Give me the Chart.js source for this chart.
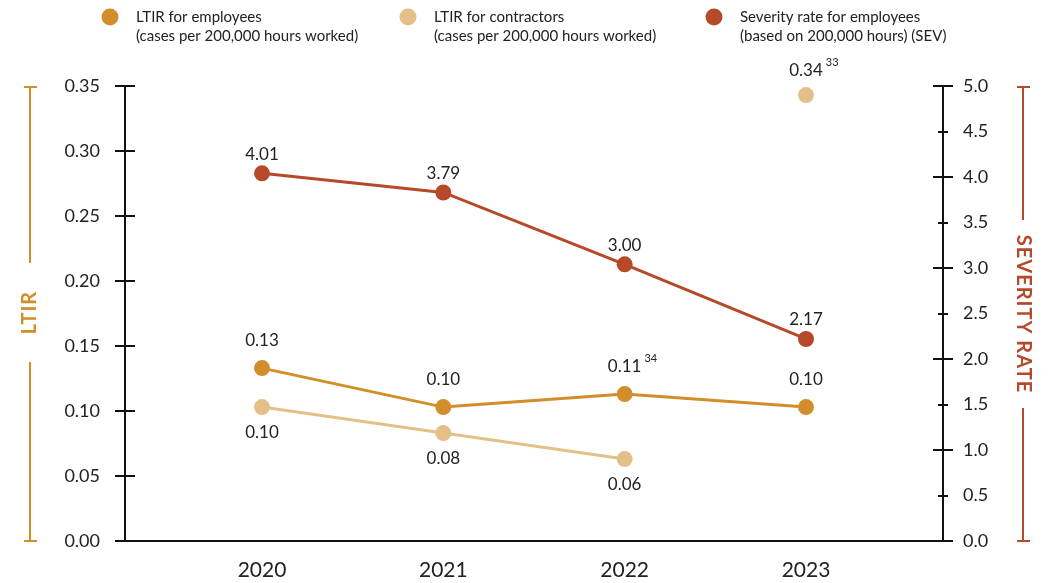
<!DOCTYPE html>
<html lang="en">
<head>
    <meta charset="UTF-8">
    <title>LTIR and Severity Rate</title>
    <script src="https://cdn.jsdelivr.net/npm/chart.js"></script>
    <style>
        body {
            margin: 0;
            background: #ffffff;
        }
        .wrap {
            position: relative;
            width: 1048px;
            height: 583px;
        }
    </style>
</head>
<body>
    <div class="wrap">
        <canvas id="grafico" width="1048" height="583"></canvas>
    </div>
    <script>
        // data
        const years = [2020, 2021, 2022, 2023];
        const ltirEmployees = [0.133, 0.103, 0.113, 0.103];
        const ltirContractors = [0.103, 0.083, 0.063, 0.343];
        const severityRate = [4.04, 3.83, 3.04, 2.22];

        const ltirEmployeesLabels = ['0.13', '0.10', '0.11', '0.10'];
        const ltirContractorsLabels = ['0.10', '0.08', '0.06', '0.34'];
        const severityLabels = ['4.01', '3.79', '3.00', '2.17'];
        const ltirEmployeesNotes = ['', '', '34', ''];
        const ltirContractorsNotes = ['', '', '', '33'];
        const severityNotes = ['', '', '', ''];
        const ltirContractorsSide = ['below', 'below', 'below', 'above'];

        const legendTitles = ['LTIR for employees', 'LTIR for contractors', 'Severity rate for employees'];
        const legendSubtitles = ['(cases per 200,000 hours worked)', '(cases per 200,000 hours worked)', '(based on 200,000 hours) (SEV)'];

        const colEmp = '#d18e2b';
        const colCon = '#e4bf88';
        const colSev = '#b5492a';
        const colText = '#222222';
        const FONT = 'Lato, "Open Sans", sans-serif';

        function pts(values) {
            return values.map((v, i) => ({ x: years[i], y: v }));
        }

        // value labels next to the points
        const valueLabels = {
            id: 'valueLabels',
            afterDatasetsDraw(chart) {
                const ctx = chart.ctx;
                const sets = [
                    { labels: ltirEmployeesLabels, notes: ltirEmployeesNotes, side: () => 'above', off: 28 },
                    { labels: ltirContractorsLabels, notes: ltirContractorsNotes, side: i => ltirContractorsSide[i], off: 25 },
                    { labels: severityLabels, notes: severityNotes, side: () => 'above', off: 19 }
                ];
                ctx.save();
                sets.forEach((s, d) => {
                    const meta = chart.getDatasetMeta(d);
                    meta.data.forEach((p, i) => {
                        const y = s.side(i) === 'above' ? p.y - s.off : p.y + s.off;
                        ctx.font = '17px ' + FONT;
                        ctx.fillStyle = colText;
                        ctx.textAlign = 'center';
                        ctx.textBaseline = 'middle';
                        ctx.fillText(s.labels[i], p.x, y);
                        if (s.notes[i]) {
                            const w = ctx.measureText(s.labels[i]).width;
                            ctx.font = '11px ' + FONT;
                            ctx.textAlign = 'left';
                            ctx.fillText(s.notes[i], p.x + w / 2 + 3, y - 8);
                        }
                    });
                });
                ctx.restore();
            }
        };

        // tick marks crossing the axis lines, brackets with axis titles, legend
        const decor = {
            id: 'decor',
            afterDraw(chart) {
                const ctx = chart.ctx;
                const yl = chart.scales.y;
                const yr = chart.scales.y2;
                ctx.save();
                ctx.strokeStyle = '#111';
                ctx.lineWidth = 2;
                yl.ticks.forEach(t => {
                    const y = Math.round(yl.getPixelForValue(t.value));
                    ctx.beginPath();
                    ctx.moveTo(yl.right - 10, y);
                    ctx.lineTo(yl.right + 10, y);
                    ctx.stroke();
                });
                yr.ticks.forEach(t => {
                    const y = Math.round(yr.getPixelForValue(t.value));
                    const half = Math.abs(t.value - Math.round(t.value)) < 0.01 ? 10 : 5;
                    ctx.beginPath();
                    ctx.moveTo(yr.left - half, y);
                    ctx.lineTo(yr.left + half, y);
                    ctx.stroke();
                });

                // axis brackets
                const top = yl.top + 1;
                const bot = yl.bottom;
                function bracket(x, gapTop, gapBot, color, text, rot) {
                    ctx.strokeStyle = color;
                    ctx.lineWidth = 2;
                    ctx.beginPath();
                    ctx.moveTo(x, top); ctx.lineTo(x, gapTop);
                    ctx.moveTo(x, gapBot); ctx.lineTo(x, bot);
                    ctx.moveTo(x - 6, top); ctx.lineTo(x + 7, top);
                    ctx.moveTo(x - 6, bot); ctx.lineTo(x + 7, bot);
                    ctx.stroke();
                    ctx.save();
                    ctx.translate(x, (gapTop + gapBot) / 2);
                    ctx.rotate(rot);
                    ctx.fillStyle = color;
                    ctx.font = 'bold 20px ' + FONT;
                    ctx.letterSpacing = '1px';
                    ctx.textAlign = 'center';
                    ctx.textBaseline = 'middle';
                    ctx.fillText(text, 0, 0);
                    ctx.restore();
                }
                bracket(30, 263, 362, colEmp, 'LTIR', -Math.PI / 2);
                bracket(1023, 220, 408, colSev, 'SEVERITY RATE', Math.PI / 2);

                // legend
                const legendX = [110, 408, 714];
                const legendCol = [colEmp, colCon, colSev];
                legendX.forEach((x, i) => {
                    ctx.fillStyle = legendCol[i];
                    ctx.beginPath();
                    ctx.arc(x, 17, 8.5, 0, Math.PI * 2);
                    ctx.fill();
                    ctx.fillStyle = colText;
                    ctx.font = '15px ' + FONT;
                    ctx.textAlign = 'left';
                    ctx.textBaseline = 'middle';
                    ctx.fillText(legendTitles[i], x + 26, 17);
                    ctx.fillText(legendSubtitles[i], x + 26, 36);
                });
                ctx.restore();
            }
        };

        function lineSet(label, values, color, axis) {
            return {
                label: label,
                data: pts(values),
                yAxisID: axis,
                borderColor: color,
                backgroundColor: color,
                borderWidth: 3,
                pointRadius: 8,
                pointHoverRadius: 8,
                pointBorderWidth: 0,
                pointBackgroundColor: color
            };
        }

        const contractors = lineSet('LTIR for contractors', ltirContractors, colCon, 'y');
        // 2023 contractor value stands alone, not joined to 2022
        contractors.segment = {
            borderColor: c => c.p1DataIndex === 3 ? 'rgba(0,0,0,0)' : colCon
        };

        new Chart(document.getElementById('grafico'), {
            type: 'line',
            data: {
                datasets: [
                    lineSet('LTIR for employees', ltirEmployees, colEmp, 'y'),
                    contractors,
                    lineSet('Severity rate for employees', severityRate, colSev, 'y2')
                ]
            },
            options: {
                responsive: false,
                animation: false,
                layout: { padding: { top: 86, left: 0, right: 0, bottom: 0 } },
                plugins: {
                    legend: { display: false },
                    tooltip: { enabled: false }
                },
                scales: {
                    x: {
                        type: 'linear',
                        min: 2019.2445,
                        max: 2023.7555,
                        afterBuildTicks: s => { s.ticks = years.map(v => ({ value: v })); },
                        afterFit: s => { s.height = 42; },
                        grid: { display: false, drawTicks: false },
                        border: { display: true, color: '#111', width: 2 },
                        ticks: {
                            padding: 17,
                            color: colText,
                            font: { family: FONT, size: 21 },
                            callback: v => String(v)
                        }
                    },
                    y: {
                        position: 'left',
                        min: 0,
                        max: 0.35,
                        afterFit: s => { s.width = 125; },
                        grid: { display: false, drawTicks: false },
                        border: { display: true, color: '#111', width: 2 },
                        ticks: {
                            stepSize: 0.05,
                            padding: 25,
                            color: colText,
                            font: { family: FONT, size: 18 },
                            callback: v => v.toFixed(2)
                        }
                    },
                    y2: {
                        position: 'right',
                        min: 0,
                        max: 5,
                        afterFit: s => { s.width = 105; },
                        grid: { display: false, drawTicks: false },
                        border: { display: true, color: '#111', width: 2 },
                        ticks: {
                            stepSize: 0.5,
                            padding: 20,
                            color: colText,
                            font: { family: FONT, size: 18 },
                            callback: v => v.toFixed(1)
                        }
                    }
                }
            },
            plugins: [valueLabels, decor]
        });
    </script>
</body>
</html>
